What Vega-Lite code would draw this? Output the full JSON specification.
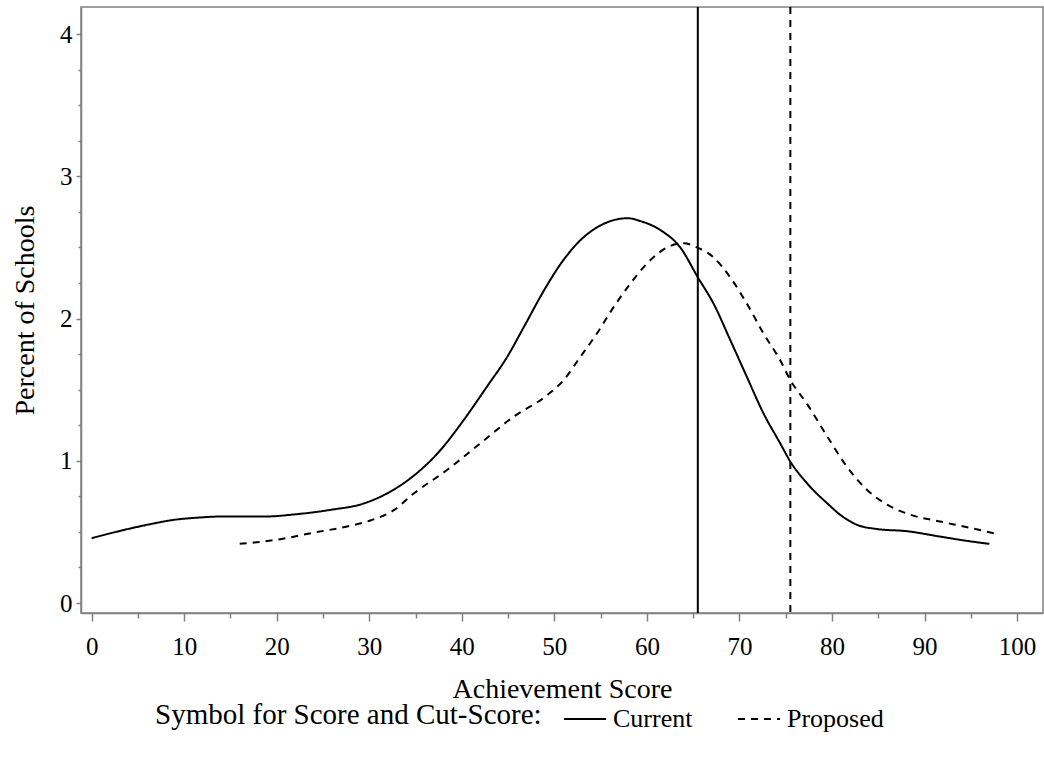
{
  "$schema": "https://vega.github.io/schema/vega-lite/v6.json",
  "width": 962,
  "height": 606,
  "autosize": {"type": "none"},
  "padding": {"left": 81, "top": 7, "right": 1, "bottom": 146},
  "background": "white",
  "config": {
    "font": "Liberation Serif",
    "view": {"stroke": "#808080", "strokeWidth": 1.5},
    "axis": {
      "grid": false,
      "domainColor": "#808080",
      "domainWidth": 1.5,
      "tickColor": "#808080",
      "tickWidth": 1.5,
      "labelFont": "Liberation Serif",
      "labelColor": "black",
      "labelFontSize": 25,
      "titleFont": "Liberation Serif",
      "titleFontSize": 28,
      "titleFontWeight": "normal",
      "titleColor": "black",
      "labelOverlap": false
    },
    "legend": {
      "labelFont": "Liberation Serif",
      "titleFont": "Liberation Serif"
    }
  },
  "datasets": {
    "curves": [
      {"group": "Current", "score": 0, "pct": 0.456},
      {"group": "Current", "score": 3.5, "pct": 0.514},
      {"group": "Current", "score": 6.0, "pct": 0.55},
      {"group": "Current", "score": 8.9, "pct": 0.585},
      {"group": "Current", "score": 11.4, "pct": 0.60},
      {"group": "Current", "score": 13.9, "pct": 0.608},
      {"group": "Current", "score": 18.6, "pct": 0.608},
      {"group": "Current", "score": 22.2, "pct": 0.625},
      {"group": "Current", "score": 25.8, "pct": 0.655},
      {"group": "Current", "score": 29.4, "pct": 0.70},
      {"group": "Current", "score": 31.9, "pct": 0.77},
      {"group": "Current", "score": 34.1, "pct": 0.86},
      {"group": "Current", "score": 37.7, "pct": 1.076},
      {"group": "Current", "score": 40.2, "pct": 1.286},
      {"group": "Current", "score": 42.7, "pct": 1.52},
      {"group": "Current", "score": 44.9, "pct": 1.73},
      {"group": "Current", "score": 46.7, "pct": 1.94},
      {"group": "Current", "score": 48.9, "pct": 2.20},
      {"group": "Current", "score": 50.7, "pct": 2.386},
      {"group": "Current", "score": 52.8, "pct": 2.55},
      {"group": "Current", "score": 55.0, "pct": 2.655},
      {"group": "Current", "score": 57.9, "pct": 2.705},
      {"group": "Current", "score": 59.3, "pct": 2.685},
      {"group": "Current", "score": 61.5, "pct": 2.62},
      {"group": "Current", "score": 63.6, "pct": 2.50},
      {"group": "Current", "score": 65.5, "pct": 2.29},
      {"group": "Current", "score": 67.2, "pct": 2.105},
      {"group": "Current", "score": 69.0, "pct": 1.85},
      {"group": "Current", "score": 70.8, "pct": 1.59},
      {"group": "Current", "score": 72.6, "pct": 1.333},
      {"group": "Current", "score": 74.4, "pct": 1.123},
      {"group": "Current", "score": 75.5, "pct": 0.994},
      {"group": "Current", "score": 77.3, "pct": 0.842},
      {"group": "Current", "score": 79.5, "pct": 0.70},
      {"group": "Current", "score": 80.9, "pct": 0.62},
      {"group": "Current", "score": 82.7, "pct": 0.55},
      {"group": "Current", "score": 84.9, "pct": 0.52},
      {"group": "Current", "score": 88.1, "pct": 0.505},
      {"group": "Current", "score": 91.7, "pct": 0.467},
      {"group": "Current", "score": 94.6, "pct": 0.437},
      {"group": "Current", "score": 97.0, "pct": 0.416},
      {"group": "Proposed", "score": 16.0, "pct": 0.416},
      {"group": "Proposed", "score": 20.4, "pct": 0.449},
      {"group": "Proposed", "score": 24.0, "pct": 0.495},
      {"group": "Proposed", "score": 27.6, "pct": 0.538},
      {"group": "Proposed", "score": 30.1, "pct": 0.58},
      {"group": "Proposed", "score": 32.7, "pct": 0.655},
      {"group": "Proposed", "score": 34.8, "pct": 0.77},
      {"group": "Proposed", "score": 38.4, "pct": 0.935},
      {"group": "Proposed", "score": 42.0, "pct": 1.123},
      {"group": "Proposed", "score": 45.6, "pct": 1.31},
      {"group": "Proposed", "score": 49.2, "pct": 1.46},
      {"group": "Proposed", "score": 51.0, "pct": 1.567},
      {"group": "Proposed", "score": 52.8, "pct": 1.73},
      {"group": "Proposed", "score": 54.6, "pct": 1.895},
      {"group": "Proposed", "score": 56.4, "pct": 2.08},
      {"group": "Proposed", "score": 58.2, "pct": 2.245},
      {"group": "Proposed", "score": 60.0, "pct": 2.386},
      {"group": "Proposed", "score": 62.2, "pct": 2.50},
      {"group": "Proposed", "score": 64.0, "pct": 2.53},
      {"group": "Proposed", "score": 65.4, "pct": 2.50},
      {"group": "Proposed", "score": 67.2, "pct": 2.43},
      {"group": "Proposed", "score": 69.0, "pct": 2.29},
      {"group": "Proposed", "score": 70.8, "pct": 2.105},
      {"group": "Proposed", "score": 72.6, "pct": 1.895},
      {"group": "Proposed", "score": 74.4, "pct": 1.707},
      {"group": "Proposed", "score": 75.5, "pct": 1.567},
      {"group": "Proposed", "score": 77.3, "pct": 1.40},
      {"group": "Proposed", "score": 79.5, "pct": 1.17},
      {"group": "Proposed", "score": 81.6, "pct": 0.96},
      {"group": "Proposed", "score": 83.8, "pct": 0.795},
      {"group": "Proposed", "score": 86.0, "pct": 0.69},
      {"group": "Proposed", "score": 88.5, "pct": 0.62},
      {"group": "Proposed", "score": 91.7, "pct": 0.573},
      {"group": "Proposed", "score": 94.6, "pct": 0.533},
      {"group": "Proposed", "score": 97.8, "pct": 0.486}
    ],
    "cuts": [
      {"group": "Current", "cut": 65.5},
      {"group": "Proposed", "cut": 75.5}
    ]
  },
  "encoding": {
    "x": {
      "type": "quantitative",
      "scale": {"domain": [-1.15, 102.8], "nice": false, "zero": false},
      "axis": {
        "title": "Achievement Score",
        "values": [0,5,10,15,20,25,30,35,40,45,50,55,60,65,70,75,80,85,90,95,100],
        "labelExpr": "datum.value % 10 === 0 ? format(datum.value, 'd') : ''",
        "tickSize": {"condition": {"test": "datum.value % 10 === 0", "value": 8}, "value": 5},
        "labelPadding": 13,
        "titlePadding": 16
      }
    },
    "y": {
      "type": "quantitative",
      "scale": {"domain": [-0.07, 4.19], "nice": false, "zero": false},
      "axis": {
        "title": "Percent of Schools",
        "values": [0,0.25,0.5,0.75,1,1.25,1.5,1.75,2,2.25,2.5,2.75,3,3.25,3.5,3.75,4],
        "labelExpr": "datum.value % 1 === 0 ? format(datum.value, 'd') : ''",
        "tickSize": {"condition": {"test": "datum.value % 1 === 0", "value": 5}, "value": 3},
        "labelPadding": 4,
        "titlePadding": 20
      }
    },
    "strokeDash": {
      "field": "group",
      "type": "nominal",
      "scale": {"domain": ["Current", "Proposed"], "range": [[1, 0], [7, 6]]},
      "legend": {
        "title": "Symbol for Score and Cut-Score:",
        "orient": "none",
        "direction": "horizontal",
        "titleOrient": "left",
        "legendX": 74,
        "legendY": 690,
        "titleFontSize": 29,
        "titleFontWeight": "normal",
        "titleColor": "black",
        "titleLimit": 800,
        "titlePadding": 21,
        "labelFontSize": 26,
        "labelColor": "black",
        "labelLimit": 300,
        "labelOffset": 6,
        "columnPadding": 41,
        "symbolType": "stroke",
        "symbolSize": 1764,
        "symbolStrokeWidth": 2,
        "symbolStrokeColor": "black"
      }
    }
  },
  "layer": [
    {
      "data": {"name": "curves"},
      "mark": {"type": "line", "color": "black", "strokeWidth": 2, "interpolate": "monotone"},
      "encoding": {
        "x": {"field": "score"},
        "y": {"field": "pct"}
      }
    },
    {
      "data": {"name": "cuts"},
      "mark": {"type": "rule", "color": "black", "strokeWidth": 2},
      "encoding": {
        "x": {"field": "cut"}
      }
    }
  ]
}
